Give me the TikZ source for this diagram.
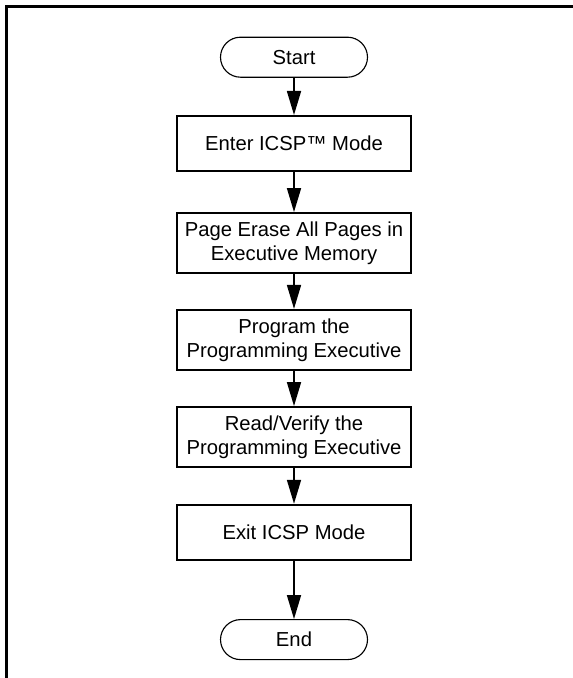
\documentclass[tikz,border=0pt]{standalone}
\usepackage{fontspec}
\setmainfont{Liberation Sans}
\usepackage{tikz}
\usetikzlibrary{arrows.meta,positioning}

\begin{document}
\begin{tikzpicture}[
    term/.style={draw, rounded corners=0.5cm, minimum width=3.675cm, minimum height=1cm, line width=0.8pt, font=\fontsize{14.4}{17}\selectfont},
    blk/.style={draw, minimum width=5.85cm, minimum height=1.375cm, align=center, line width=1.6pt, font=\fontsize{14.4}{17}\selectfont},
    arr/.style={-{Triangle[length=0.6cm, width=0.35cm]}, line width=1.2pt}
]
\useasboundingbox (0,0) rectangle (14.325,-16.95);
% frame
\draw[line width=1.8pt] (0.1625,-16.95) -- (0.1625,-0.1625) -- (14.325,-0.1625);

\node[term] (start) at (7.35,-1.43) {Start};
\node[blk] (enter) at (7.35,-3.59) {Enter ICSP™ Mode};
\node[blk, minimum height=1.5cm] (erase) at (7.35,-6.08) {Page Erase All Pages in\\Executive Memory};
\node[blk, minimum height=1.5cm] (prog) at (7.35,-8.5) {Program the\\Programming Executive};
\node[blk, minimum height=1.5cm] (verify) at (7.35,-10.93) {Read/Verify the\\Programming Executive};
\node[blk] (exit) at (7.35,-13.31) {Exit ICSP Mode};
\node[term] (end) at (7.35,-15.99) {End};

\draw[arr] (start) -- (enter);
\draw[arr] (enter) -- (erase);
\draw[arr] (erase) -- (prog);
\draw[arr] (prog) -- (verify);
\draw[arr] (verify) -- (exit);
\draw[arr] (exit) -- (end);
\end{tikzpicture}
\end{document}
